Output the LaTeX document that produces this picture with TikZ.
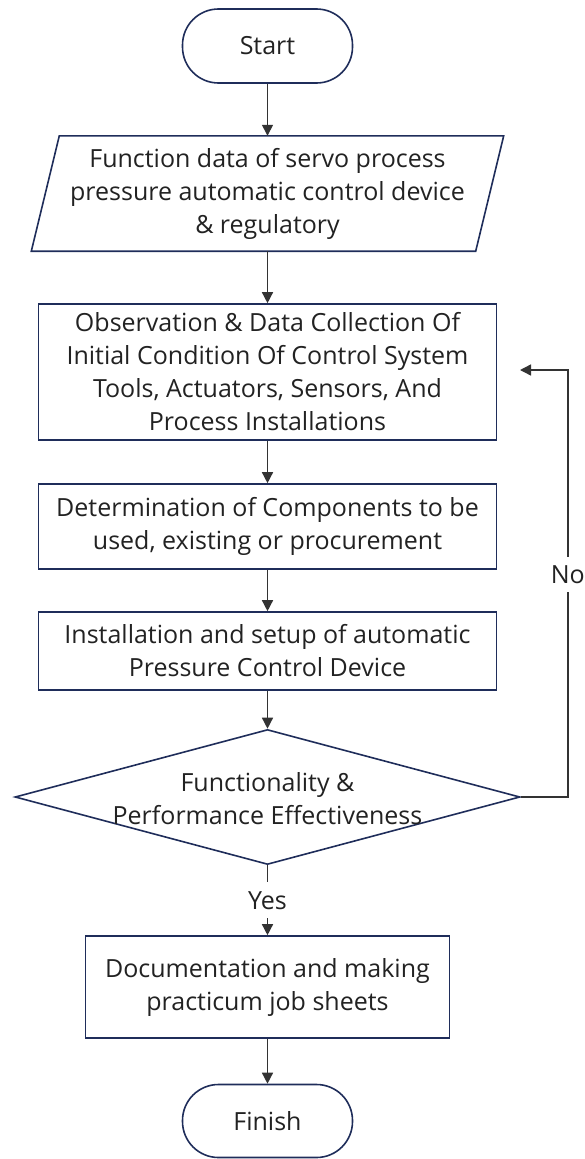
\documentclass[tikz,border=0pt]{standalone}
\usepackage{fontspec}
\setmainfont{Open Sans}
\usetikzlibrary{shapes.geometric, arrows.meta, calc}
\definecolor{edgeblue}{HTML}{1F2D5A}
\definecolor{ink}{HTML}{222222}
\definecolor{wire}{HTML}{333333}

\begin{document}
\begin{tikzpicture}[x=1pt, y=-1pt,
  every node/.style={font=\fontsize{25}{33}\selectfont, text=ink},
  outline/.style={draw=edgeblue, line width=1.6pt},
  terminal/.style={outline, rounded corners=36pt, minimum width=170pt,
    minimum height=74pt, inner sep=0pt},
  procbox/.style={outline, inner sep=0pt, align=center},
  flow/.style={draw=wire, line width=1.4pt,
    -{Triangle[length=11pt, width=11pt]}},
  gaplabel/.style={fill=white, inner xsep=1pt, inner ysep=0pt}
]
\useasboundingbox (0,0) rectangle (584,1159);

% start / finish terminals
\node[terminal] (start) at (267.5,46) {Start};

% input data (parallelogram drawn around a plain text node)
\node[inner sep=0pt, minimum width=444pt, minimum height=115pt, align=center]
  (data) at (267.5,193.5)
  {Function data of servo process\\pressure automatic control device\\\& regulatory};
\draw[outline] ($(data.north west)+(14,0)$) -- ($(data.north east)+(14,0)$)
  -- ($(data.south east)+(-14,0)$) -- ($(data.south west)+(-14,0)$) -- cycle;

% process steps
\node[procbox, minimum width=458pt, minimum height=136pt] (observe) at (267.5,372)
  {Observation \& Data Collection Of\\Initial Condition Of Control System\\Tools, Actuators, Sensors, And\\Process Installations};
\node[procbox, minimum width=458pt, minimum height=85pt] (determine) at (267.5,526.5)
  {Determination of Components to be\\used, existing or procurement};
\node[procbox, minimum width=458pt, minimum height=78pt] (install) at (267.5,651)
  {Installation and setup of automatic\\Pressure Control Device};

% decision
\node[diamond, outline, minimum width=505pt, minimum height=135pt, inner sep=0pt]
  (check) at (267.5,797) {};
\node[align=center, inner sep=0pt] (checktext) at (267.5,799)
  {Functionality \&\\Performance Effectiveness};

\node[procbox, minimum width=364pt, minimum height=102pt] (doc) at (267.5,987)
  {Documentation and making\\practicum job sheets};
\node[terminal, minimum height=73pt] (finish) at (267.5,1121) {Finish};

% return point of the loop
\coordinate (loopend) at (520,370);

% connectors
\draw[flow] (start) -- (data);
\draw[flow] (data) -- (observe);
\draw[flow] (observe) -- (determine);
\draw[flow] (determine) -- (install);
\draw[flow] (install) -- (check);
\draw[flow] (check.south) -- node[gaplabel, minimum height=36pt] {Yes} (doc.north);
\draw[flow] (doc) -- (finish);
\draw[flow] (check.east) -- ++(47,0) coordinate (loopcorner)
  -- node[gaplabel, pos=0.52, minimum height=35pt] {No} (loopcorner |- loopend)
  -- (loopend);
\end{tikzpicture}
\end{document}
